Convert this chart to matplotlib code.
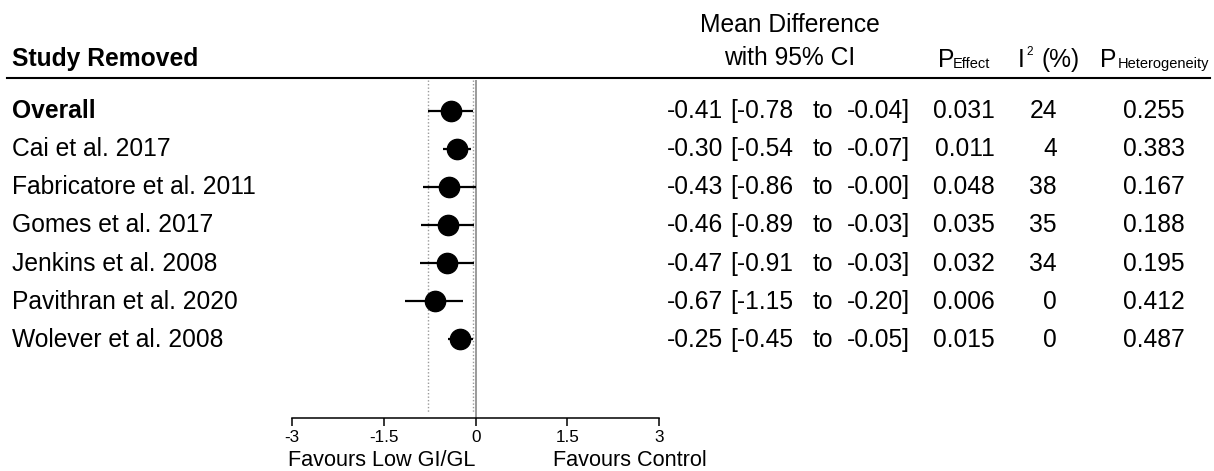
import matplotlib
matplotlib.use("Agg")
import matplotlib.pyplot as plt
from matplotlib.transforms import blended_transform_factory
from matplotlib.lines import Line2D

plt.rcParams['font.family'] = ['Liberation Sans', 'DejaVu Sans']

# ---- data ----
studies = ["Overall", "Cai et al. 2017", "Fabricatore et al. 2011", "Gomes et al. 2017",
           "Jenkins et al. 2008", "Pavithran et al. 2020", "Wolever et al. 2008"]
md = [-0.41, -0.30, -0.43, -0.46, -0.47, -0.67, -0.25]
ci_low = [-0.78, -0.54, -0.86, -0.89, -0.91, -1.15, -0.45]
ci_high = [-0.04, -0.07, -0.0, -0.03, -0.03, -0.20, -0.05]
p_effect = [0.031, 0.011, 0.048, 0.035, 0.032, 0.006, 0.015]
i2 = [24, 4, 38, 35, 34, 0, 0]
p_het = [0.255, 0.383, 0.167, 0.188, 0.195, 0.412, 0.487]
xticks = [-3, -1.5, 0, 1.5, 3]
xtick_labels = ["-3", "-1.5", "0", "1.5", "3"]

W, H = 1214, 471
fig = plt.figure(figsize=(W / 100, H / 100), dpi=100)

def fx(p):
    return p / W

def fy(p):
    return 1 - p / H

FS = 17.7
ax = fig.add_axes([fx(292.3), fy(417.5), fx(659.0) - fx(292.3), 1 - fy(417.5)])
ax.set_xlim(-3, 3)
ax.set_ylim(8.063, -2.909)
ax.patch.set_alpha(0)
for s in ['top', 'left', 'right']:
    ax.spines[s].set_visible(False)
ax.spines['bottom'].set_linewidth(1.1)
ax.set_yticks([])
ax.set_xticks(xticks)
ax.set_xticklabels(xtick_labels, fontsize=12.3)
ax.tick_params(axis='x', direction='out', length=5.5, width=1.1, pad=3.5, colors='black')

rows = list(range(len(studies)))

# reference lines
ax.vlines([ci_low[0], ci_high[0]], -0.81, 7.95, colors='#9a9a9a',
          linestyles=(0, (1, 1.5)), lw=1.0, zorder=1)
ax.vlines(0, -0.81, 8.063, colors='#9a9a9a', lw=1.4, zorder=1)

# CIs and points
ax.hlines(rows, ci_low, ci_high, colors='black', lw=1.6, zorder=2)
ax.plot(md, rows, 'o', color='black', ms=14.6, zorder=3, clip_on=False)

tr = blended_transform_factory(fig.transFigure, ax.transData)
off = 0.2
for i in rows:
    y = i + off
    ax.text(fx(12), y, studies[i], transform=tr, fontsize=FS, va='baseline', ha='left',
            fontweight='bold' if i == 0 else 'normal')
    ax.text(fx(666.7), y, f"{md[i]:.2f}", transform=tr, fontsize=FS, va='baseline', ha='left')
    ax.text(fx(730.7), y, f"[{ci_low[i]:.2f}", transform=tr, fontsize=FS, va='baseline', ha='left')
    ax.text(fx(813), y, "to", transform=tr, fontsize=FS, va='baseline', ha='left')
    ax.text(fx(847), y, f"{ci_high[i]:.2f}]", transform=tr, fontsize=FS, va='baseline', ha='left')
    ax.text(fx(995), y, f"{p_effect[i]:.3f}", transform=tr, fontsize=FS, va='baseline', ha='right')
    ax.text(fx(1057), y, f"{i2[i]}", transform=tr, fontsize=FS, va='baseline', ha='right')
    ax.text(fx(1185), y, f"{p_het[i]:.3f}", transform=tr, fontsize=FS, va='baseline', ha='right')

# headers
fig.text(fx(12), fy(66), "Study Removed", fontsize=FS, fontweight='bold', va='baseline', ha='left')
fig.text(fx(790), fy(31.7), "Mean Difference", fontsize=FS, va='baseline', ha='center')
fig.text(fx(790), fy(65), "with 95% CI", fontsize=FS, va='baseline', ha='center')
fig.text(fx(938), fy(66.7), "P", fontsize=FS, va='baseline', ha='left')
fig.text(fx(953), fy(68.3), "Effect", fontsize=10.5, va='baseline', ha='left')
fig.text(fx(1018), fy(66.7), "I", fontsize=FS, va='baseline', ha='left')
fig.text(fx(1026), fy(55), "2", fontsize=8.5, va='baseline', ha='left')
fig.text(fx(1041.7), fy(66.7), "(%)", fontsize=FS, va='baseline', ha='left')
fig.text(fx(1100), fy(66.7), "P", fontsize=FS, va='baseline', ha='left')
fig.text(fx(1118), fy(68.3), "Heterogeneity", fontsize=10.5, va='baseline', ha='left')

fig.add_artist(Line2D([fx(7), fx(1210)], [fy(77.7), fy(77.7)], color='black', lw=1.5,
                      transform=fig.transFigure))

# favours labels
fig.text(fx(381.7), fy(466.5), "Favours Low GI/GL", fontsize=15.6, va='baseline', ha='center')
fig.text(fx(629.5), fy(466.5), "Favours Control", fontsize=15.6, va='baseline', ha='center')

fig.savefig("out.png", dpi=100)
